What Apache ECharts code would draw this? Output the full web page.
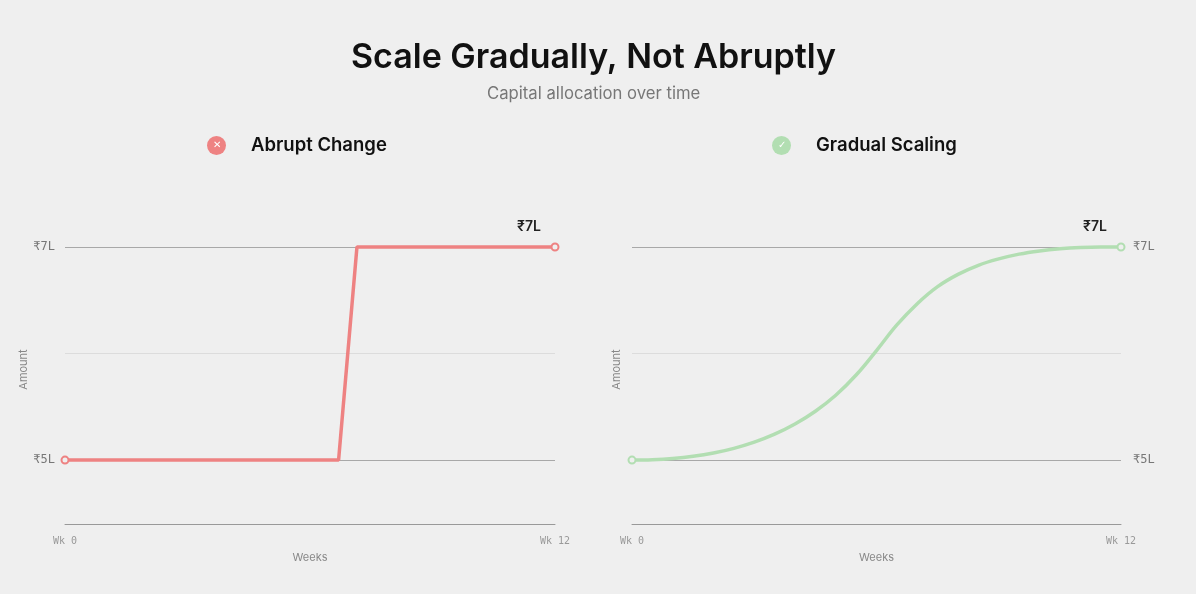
<!DOCTYPE html>
<html>
<head>
<meta charset="utf-8">
<script src="https://cdn.jsdelivr.net/npm/echarts@6/dist/echarts.min.js"></script>
<style>
  html, body { margin: 0; padding: 0; background: #efefef; }
  #main { width: 1196px; height: 594px; }
</style>
</head>
<body>
<div id="main"></div>
<script>
var myChart = echarts.init(document.getElementById('main'));

// data
var weekTicks = [0, 12];
var amountTicks = [5, 7];
var guideLevels = [5, 6, 7];
var abruptData = [[0, 5], [6.7, 5], [7.15, 7], [12, 7]];
var gradualWeeks = [0, 0.5, 1, 1.5, 2, 2.5, 3, 3.5, 4, 4.5, 5, 5.5, 6, 6.5, 7, 7.5, 8, 8.5, 9, 9.5, 10, 10.5, 11, 11.5, 12];
var gradualValues = [5.0, 5.004, 5.015, 5.035, 5.066, 5.11, 5.168, 5.243, 5.338, 5.458, 5.608, 5.798, 6.028, 6.268, 6.468, 6.628, 6.743, 6.828, 6.888, 6.933, 6.963, 6.983, 6.995, 7.0, 7.0];

var red = '#ee8282';
var green = '#b2deb2';
var mono = '"DejaVu Sans Mono", monospace';

function guideSeries(xi, yi) {
    return {
        type: 'line',
        xAxisIndex: xi,
        yAxisIndex: yi,
        data: [],
        silent: true,
        z: 1,
        markLine: {
            silent: true,
            z: 1,
            symbol: 'none',
            label: { show: false },
            animation: false,
            data: guideLevels.map(function (v) {
                return {
                    yAxis: v,
                    lineStyle: {
                        color: v === 6 ? '#dcdcdc' : '#a8a8a8',
                        width: 1,
                        type: 'solid'
                    }
                };
            })
        }
    };
}

function xAxisFor(gridIndex) {
    return {
        type: 'value',
        gridIndex: gridIndex,
        min: weekTicks[0],
        max: weekTicks[1],
        interval: 12,
        name: 'Weeks',
        nameLocation: 'middle',
        nameGap: 28,
        nameTextStyle: { color: '#888', fontSize: 11, fontFamily: 'Inter' },
        axisLine: { show: true, lineStyle: { color: '#999', width: 1 } },
        axisTick: { show: false },
        splitLine: { show: false },
        axisLabel: {
            color: '#999',
            fontSize: 10,
            fontFamily: mono,
            margin: 12,
            formatter: function (v) { return 'Wk ' + v; }
        }
    };
}

function yAxisFor(gridIndex, pos, showName, showLabels, nameGap) {
    return {
        type: 'value',
        gridIndex: gridIndex,
        position: pos,
        min: 4.4,
        max: 7.3,
        name: showName ? 'Amount' : '',
        nameLocation: 'middle',
        nameGap: nameGap,
        nameTextStyle: { color: '#888', fontSize: 11, fontFamily: 'Inter' },
        axisLine: { show: false },
        axisTick: { show: false },
        splitLine: { show: false },
        axisLabel: {
            show: showLabels,
            customValues: amountTicks,
            color: '#777',
            fontSize: 12,
            fontFamily: mono,
            margin: pos === 'right' ? 12 : 10,
            formatter: function (v) { return '₹' + v + 'L'; }
        }
    };
}

function endLabel() {
    return {
        show: true,
        position: 'top',
        offset: [-26, -4],
        formatter: function (p) { return '₹' + p.value[1] + 'L'; },
        color: '#222',
        fontSize: 14,
        fontWeight: 600,
        fontFamily: 'Inter'
    };
}

function legendFor(name, glyph, color, left) {
    return {
        data: [name],
        left: left,
        top: 131,
        icon: 'none',
        itemWidth: 0,
        itemHeight: 0,
        itemGap: 0,
        selectedMode: false,
        formatter: '{i|' + glyph + '}{n|' + name + '}',
        textStyle: {
            rich: {
                i: {
                    width: 19,
                    height: 19,
                    borderRadius: 10,
                    backgroundColor: color,
                    color: '#fff',
                    fontSize: 10,
                    align: 'center',
                    verticalAlign: 'middle',
                    lineHeight: 19
                },
                n: {
                    fontSize: 18.5,
                    fontWeight: 600,
                    fontFamily: 'Inter',
                    color: '#111',
                    padding: [0, 0, 0, 25]
                }
            }
        }
    };
}

myChart.setOption({
    backgroundColor: '#efefef',
    animation: false,
    title: [
        {
            text: 'Scale Gradually, Not Abruptly',
            left: 346,
            top: 36,
            textStyle: { fontSize: 34, fontWeight: 600, color: '#111', fontFamily: 'Inter' }
        },
        {
            text: 'Capital allocation over time',
            left: 482,
            top: 80,
            textStyle: { fontSize: 16.7, fontWeight: 400, color: '#777', fontFamily: 'Inter' }
        }
    ],
    legend: [
        legendFor('Abrupt Change', '✕', red, 197),
        legendFor('Gradual Scaling', '✓', green, 762)
    ],
    grid: [
        { left: 65, right: 641, top: 215, bottom: 70 },
        { left: 632, right: 75, top: 215, bottom: 70 }
    ],
    xAxis: [xAxisFor(0), xAxisFor(1)],
    yAxis: [
        yAxisFor(0, 'left', true, true, 31),
        yAxisFor(1, 'left', true, false, 10),
        yAxisFor(1, 'right', false, true, 0)
    ],
    series: [
        guideSeries(0, 0),
        guideSeries(1, 2),
        {
            name: 'Abrupt Change',
            type: 'line',
            xAxisIndex: 0,
            yAxisIndex: 0,
            color: red,
            data: abruptData.map(function (d, i) {
                var edge = i === 0 || i === abruptData.length - 1;
                return {
                    value: d,
                    symbol: edge ? 'circle' : 'none',
                    label: i === abruptData.length - 1 ? endLabel() : { show: false }
                };
            }),
            symbolSize: 7,
            lineStyle: { color: red, width: 3.5 },
            itemStyle: { color: '#efefef', borderColor: red, borderWidth: 2 },
            z: 3
        },
        {
            name: 'Gradual Scaling',
            type: 'line',
            xAxisIndex: 1,
            yAxisIndex: 2,
            smooth: 0.4,
            color: green,
            data: gradualWeeks.map(function (w, i) {
                var edge = i === 0 || i === gradualWeeks.length - 1;
                return {
                    value: [w, gradualValues[i]],
                    symbol: edge ? 'circle' : 'none',
                    label: i === gradualWeeks.length - 1 ? endLabel() : { show: false }
                };
            }),
            symbolSize: 7,
            lineStyle: { color: green, width: 3.5 },
            itemStyle: { color: '#efefef', borderColor: green, borderWidth: 2 },
            z: 3
        }
    ]
});
</script>
</body>
</html>
